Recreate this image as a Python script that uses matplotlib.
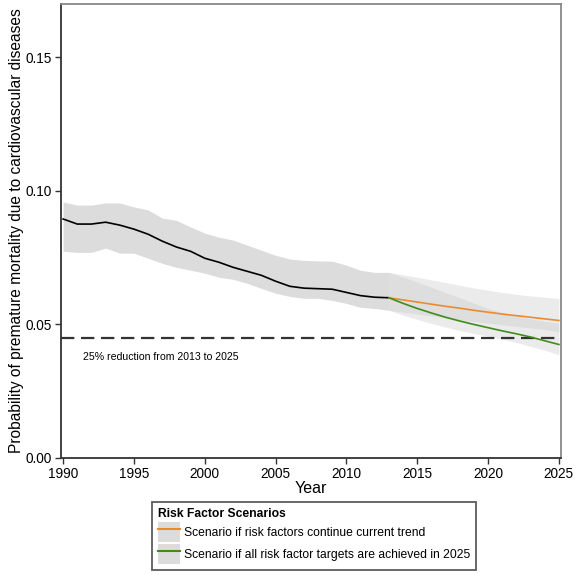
import numpy as np
import matplotlib
matplotlib.use('Agg')
import matplotlib.pyplot as plt
from matplotlib.patches import Patch
from matplotlib.lines import Line2D

plt.rcParams['font.family'] = ['Liberation Sans', 'DejaVu Sans']

# historical estimate 1990-2013
years_hist = list(range(1990, 2014))
mort_hist = [0.0895, 0.0876, 0.0876, 0.0883, 0.0872, 0.0857, 0.0838, 0.0812,
             0.0790, 0.0774, 0.0748, 0.0733, 0.0714, 0.0699, 0.0684, 0.0662,
             0.0643, 0.0636, 0.0634, 0.0632, 0.0620, 0.0608, 0.0602, 0.0600]
hist_upper = [0.0959, 0.0947, 0.0947, 0.0955, 0.0955, 0.0940, 0.0929, 0.0898,
              0.0890, 0.0865, 0.0842, 0.0827, 0.0816, 0.0797, 0.0778, 0.0759,
              0.0745, 0.0740, 0.0738, 0.0737, 0.0722, 0.0703, 0.0695, 0.0695]
hist_lower = [0.0774, 0.0770, 0.0770, 0.0786, 0.0767, 0.0767, 0.0748, 0.0729,
              0.0714, 0.0703, 0.0692, 0.0677, 0.0669, 0.0654, 0.0635, 0.0617,
              0.0605, 0.0598, 0.0598, 0.0590, 0.0579, 0.0564, 0.0560, 0.0553]

# projections 2013-2025
years_proj = list(range(2013, 2026))
trend = [0.0600, 0.0592, 0.0584, 0.0576, 0.0568, 0.0561, 0.0553, 0.0546,
         0.0539, 0.0533, 0.0527, 0.0521, 0.0515]
trend_upper = [0.0695, 0.0686, 0.0677, 0.0667, 0.0657, 0.0647, 0.0637, 0.0628,
               0.0620, 0.0613, 0.0607, 0.0602, 0.0597]
trend_lower = [0.0553, 0.0546, 0.0539, 0.0532, 0.0525, 0.0518, 0.0511, 0.0505,
               0.0499, 0.0493, 0.0487, 0.0481, 0.0473]
targets = [0.0600, 0.0579, 0.0560, 0.0543, 0.0527, 0.0513, 0.0500, 0.0488,
           0.0476, 0.0465, 0.0453, 0.0439, 0.0425]
targets_upper = [0.0695, 0.0677, 0.0659, 0.0639, 0.0619, 0.0600, 0.0580, 0.0560,
                 0.0545, 0.0532, 0.0521, 0.0512, 0.0504]
targets_lower = [0.0553, 0.0535, 0.0519, 0.0504, 0.0490, 0.0477, 0.0466, 0.0456,
                 0.0445, 0.0432, 0.0418, 0.0403, 0.0387]

target_level = 0.045  # 25% below 2013
target_label = '25% reduction from 2013 to 2025'

labels = ['Scenario if risk factors continue current trend',
          'Scenario if all risk factor targets are achieved in 2025']
c_orange = '#ee8a2e'
c_green = '#3f8c1c'

fig = plt.figure(figsize=(5.77, 5.75), dpi=100)
ax = fig.add_axes([0.1057, 0.2035, 0.8666, 0.7895])

# uncertainty bands
ax.fill_between(years_hist, hist_lower, hist_upper, color='#dcdcdc', lw=0)
ax.fill_between(years_proj, trend_lower, trend_upper, color='#c0c0c0', alpha=0.3, lw=0)
ax.fill_between(years_proj, targets_lower, targets_upper, color='#c0c0c0', alpha=0.3, lw=0)

ax.axhline(target_level, color='#333333', lw=1.6, ls=(0, (6, 3)))
ax.plot(years_hist, mort_hist, color='black', lw=1.2)
ax.plot(years_proj, trend, color=c_orange, lw=1.2)
ax.plot(years_proj, targets, color=c_green, lw=1.2)

ax.text(1991.4, 0.038, target_label, fontsize=7.6, va='center', ha='left')

ax.set_xlim(1989.85, 2025.15)
ax.set_ylim(0, 0.17)
ax.set_xticks(range(1990, 2026, 5))
ax.set_yticks([0.0, 0.05, 0.10, 0.15])
ax.yaxis.set_major_formatter(matplotlib.ticker.FormatStrFormatter('%.2f'))
ax.tick_params(labelsize=9.8, length=4, width=1, color='#333333', pad=2.5)

for side in ['left', 'bottom']:
    ax.spines[side].set_color('#333333')
    ax.spines[side].set_linewidth(1.3)
for side in ['top', 'right']:
    ax.spines[side].set_color('#888888')
    ax.spines[side].set_linewidth(1.3)

ax.set_xlabel('Year', fontsize=11.5, labelpad=0)
ax.set_ylabel('Probability of premature mortality due to cardiovascular diseases',
              fontsize=11.2, labelpad=1)

# legend: gray box with coloured line
handles = [(Patch(facecolor='#dcdcdc', edgecolor='none'), Line2D([], [], color=c_orange, lw=1.5)),
           (Patch(facecolor='#dcdcdc', edgecolor='none'), Line2D([], [], color=c_green, lw=1.5))]
leg = fig.legend(handles, labels, loc='upper left', bbox_to_anchor=(0.263, 0.127),
                 borderaxespad=0, fontsize=8.75, title='Risk Factor Scenarios',
                 title_fontproperties={'weight': 'bold', 'size': 8.75},
                 alignment='left', fancybox=False, edgecolor='#333333',
                 handlelength=1.8, handleheight=2.2, handletextpad=0.35,
                 labelspacing=0.15, borderpad=0.5)
leg.get_frame().set_linewidth(1.3)

fig.savefig('out.png', dpi=100)
